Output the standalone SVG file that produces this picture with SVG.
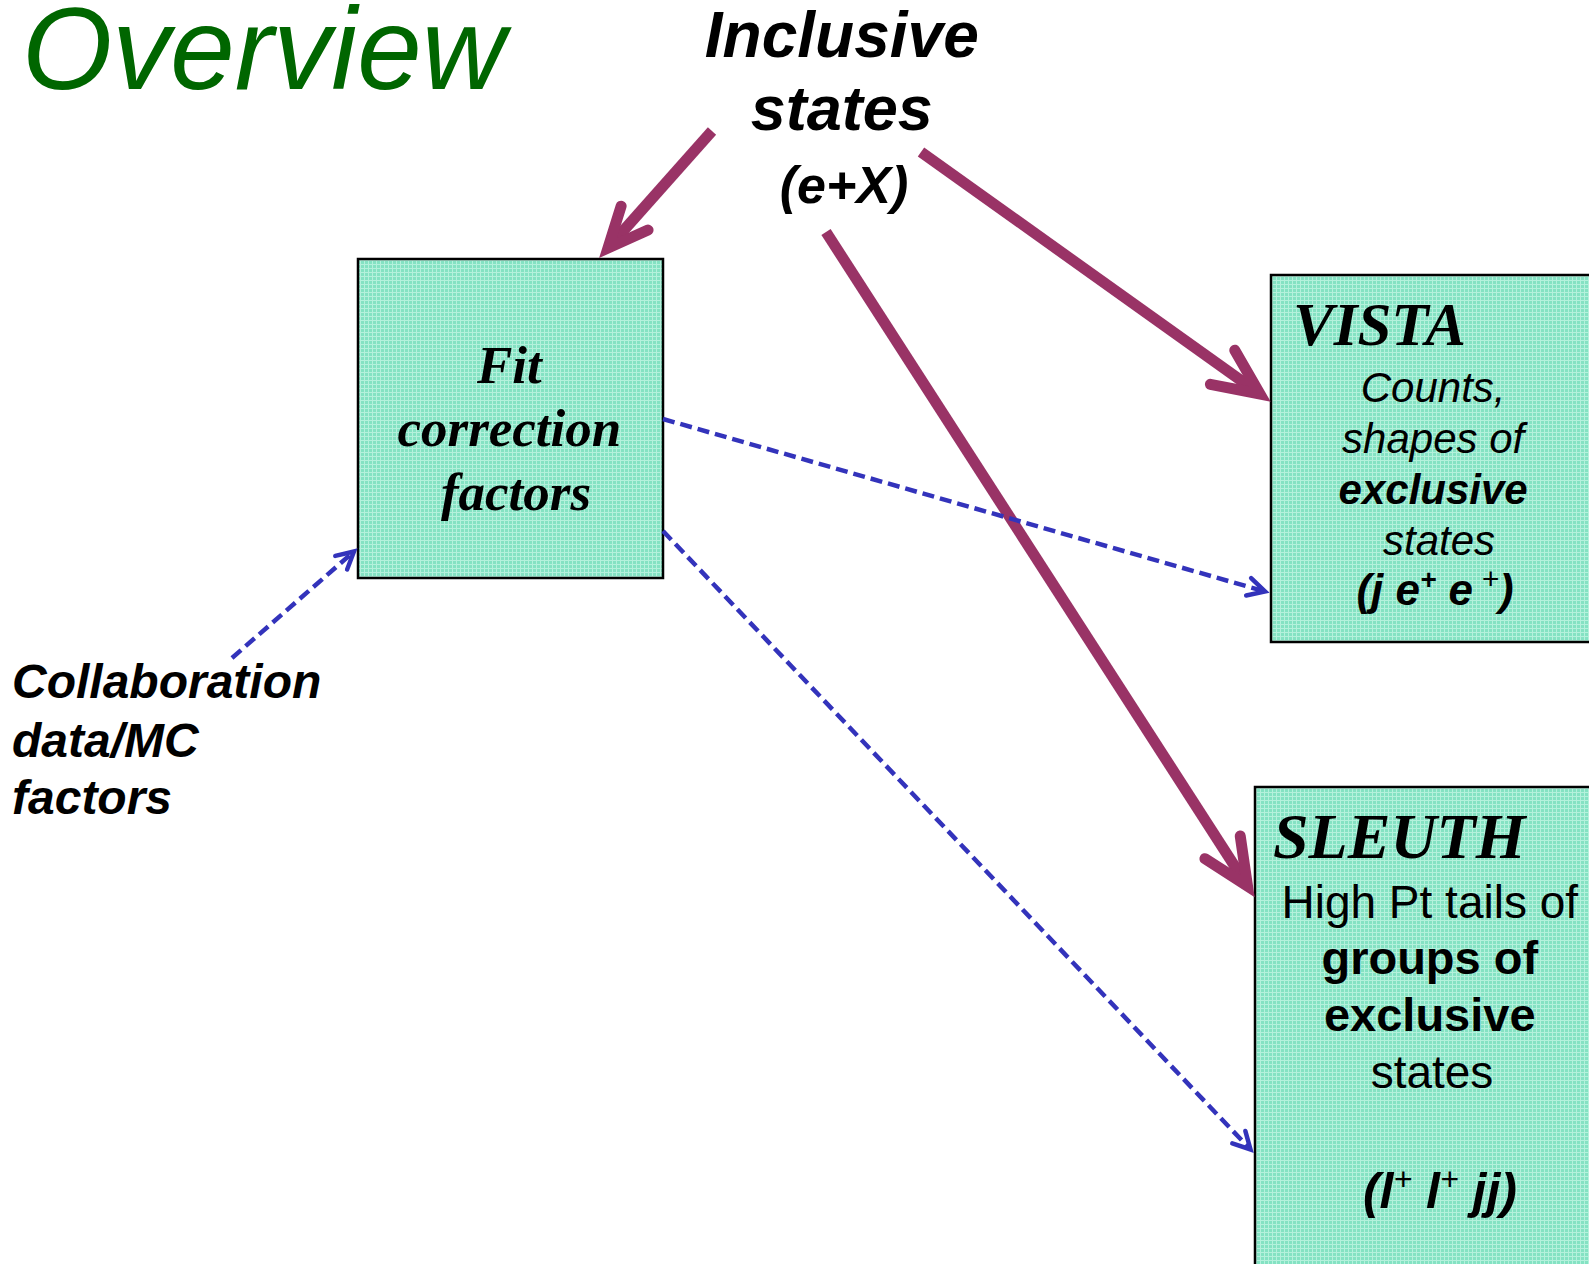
<svg xmlns="http://www.w3.org/2000/svg" width="1589" height="1264" viewBox="0 0 1589 1264">
<style>
.sans{font-family:"Liberation Sans",Arial,sans-serif}
.serif{font-family:"Liberation Serif","Times New Roman",serif}
.box{fill:url(#teal);stroke:#000;stroke-width:2.5}
.mag{fill:none;stroke:#993366;stroke-width:11;stroke-linecap:butt}
.blue{fill:none;stroke:#3333BB;stroke-width:4.5;stroke-dasharray:12 6}
</style>
<defs>
<pattern id="teal" width="4" height="4" patternUnits="userSpaceOnUse">
<rect width="4" height="4" fill="#84E2C3"/>
<rect x="0" y="0" width="4" height="1" fill="#B4F1DC"/>
<rect x="0" y="0" width="1" height="4" fill="#B4F1DC"/>
</pattern>
<marker id="headL" markerUnits="userSpaceOnUse" orient="auto" refX="0" refY="0" markerWidth="80" markerHeight="80" overflow="visible">
<path d="M-46,-21 L0,0 L-46,21" fill="none" stroke="#993366" stroke-width="11" stroke-linecap="round" stroke-linejoin="miter" stroke-miterlimit="10"/>
</marker>
<marker id="headS" markerUnits="userSpaceOnUse" orient="auto" refX="0" refY="0" markerWidth="80" markerHeight="80" overflow="visible">
<path d="M-40,-18 L0,0 L-40,18" fill="none" stroke="#993366" stroke-width="11" stroke-linecap="round" stroke-linejoin="miter" stroke-miterlimit="10"/>
</marker>
<marker id="headB" markerUnits="userSpaceOnUse" orient="auto" refX="0" refY="0" markerWidth="40" markerHeight="40" overflow="visible">
<path d="M-17,-9 L0,0 L-17,9" fill="none" stroke="#3333BB" stroke-width="4.5" stroke-dasharray="none" stroke-linecap="round" stroke-linejoin="miter" stroke-miterlimit="10"/>
</marker>
</defs>
<rect width="1589" height="1264" fill="#fff"/>

<g id="title">
<text class="sans" x="22" y="89" font-size="116" font-style="italic" fill="#006600">Overview</text>
</g>

<g id="inclusive">
<text class="sans" font-weight="bold" font-style="italic" text-anchor="middle" fill="#000">
<tspan x="844" y="57" font-size="64">Inclusive</tspan>
<tspan x="844" y="130" font-size="63">states</tspan>
<tspan x="844" y="203" font-size="52">(e+X)</tspan>
</text>
</g>

<g id="fit">
<rect class="box" x="358" y="259" width="305" height="319"/>
<text class="serif" font-weight="bold" font-style="italic" font-size="53" text-anchor="middle" fill="#000">
<tspan x="516" y="383">Fit</tspan>
<tspan x="516" y="446">correction</tspan>
<tspan x="516" y="510">factors</tspan>
</text>
</g>

<g id="vista">
<rect class="box" x="1271" y="275" width="340" height="367"/>
<text class="serif" x="1293" y="345" font-size="61" font-weight="bold" font-style="italic" fill="#000">VISTA</text>
<text class="sans" font-size="42" text-anchor="middle" fill="#000">
<tspan x="1439" y="402" font-style="italic">Counts,</tspan>
<tspan x="1439" y="453" font-style="italic">shapes of</tspan>
<tspan x="1439" y="504" font-style="italic" font-weight="bold">exclusive</tspan>
<tspan x="1439" y="555" font-style="italic">states</tspan>
</text>
<text class="sans" x="1435" y="605" font-size="44" font-weight="bold" font-style="italic" text-anchor="middle" fill="#000">(j e<tspan font-size="28" dy="-16">+</tspan><tspan dy="16"> e</tspan><tspan font-size="30" font-weight="normal" dy="-16"> +</tspan><tspan dy="16">)</tspan></text>
</g>

<g id="sleuth">
<rect class="box" x="1255" y="787" width="360" height="500"/>
<text class="serif" x="1273" y="858" font-size="64" font-weight="bold" font-style="italic" fill="#000">SLEUTH</text>
<text class="sans" text-anchor="middle" fill="#000">
<tspan x="1432" y="918" font-size="46">High Pt tails of</tspan>
<tspan x="1432" y="974" font-size="47" font-weight="bold">groups of</tspan>
<tspan x="1432" y="1031" font-size="47" font-weight="bold">exclusive</tspan>
<tspan x="1432" y="1088" font-size="46">states</tspan>
</text>
<text class="sans" x="1440" y="1208" font-size="50" font-weight="bold" font-style="italic" text-anchor="middle" fill="#000">(l<tspan font-size="32" font-weight="normal" dy="-18">+</tspan><tspan dy="18"> l</tspan><tspan font-size="32" font-weight="normal" dy="-18">+</tspan><tspan dy="18"> jj)</tspan></text>
</g>

<g id="collab">
<text class="sans" font-size="48" font-weight="bold" font-style="italic" fill="#000">
<tspan x="12" y="698">Collaboration</tspan>
<tspan x="12" y="757">data/MC</tspan>
<tspan x="12" y="814">factors</tspan>
</text>
</g>

<g id="connectors">
<line class="mag" x1="712" y1="131" x2="608" y2="248" marker-end="url(#headS)"/>
<line class="mag" x1="921" y1="152" x2="1260" y2="394" marker-end="url(#headL)"/>
<line class="mag" x1="826" y1="232" x2="1247.5" y2="886" marker-end="url(#headL)"/>
<line class="blue" x1="232" y1="658" x2="354" y2="551.5" marker-end="url(#headB)"/>
<line class="blue" x1="663" y1="419" x2="1265" y2="591.5" marker-end="url(#headB)"/>
<line class="blue" x1="663" y1="531" x2="1250.5" y2="1149.5" marker-end="url(#headB)"/>
</g>
</svg>
